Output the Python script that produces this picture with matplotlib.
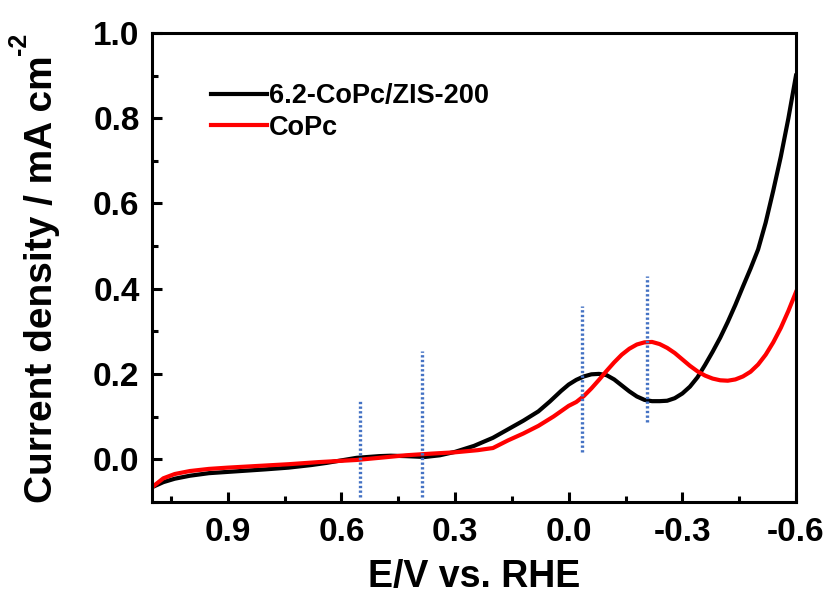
import matplotlib
matplotlib.use("Agg")
import matplotlib.pyplot as plt
from matplotlib.ticker import MultipleLocator

plt.rcParams['font.family'] = ['Liberation Sans', 'DejaVu Sans']
plt.rcParams['font.weight'] = 'bold'

# ---- data ----
e_black = [1.10, 1.07, 1.04, 1.00, 0.95, 0.90, 0.85, 0.80, 0.74, 0.68, 0.64, 0.60,
           0.56, 0.50, 0.47, 0.43, 0.38, 0.34, 0.30, 0.25, 0.20, 0.16, 0.12, 0.08,
           0.05, 0.02, 0.00, -0.02, -0.04, -0.06, -0.08, -0.10, -0.12, -0.14, -0.16,
           -0.18, -0.20, -0.22, -0.24, -0.26, -0.28, -0.30, -0.32, -0.34, -0.36,
           -0.38, -0.40, -0.42, -0.44, -0.46, -0.48, -0.50, -0.52, -0.54, -0.56,
           -0.58, -0.60]
j_black = [-0.066, -0.054, -0.046, -0.039, -0.033, -0.030, -0.027, -0.024, -0.020,
           -0.014, -0.009, -0.003, 0.003, 0.007, 0.008, 0.007, 0.005, 0.009, 0.017,
           0.031, 0.050, 0.070, 0.090, 0.112, 0.135, 0.160, 0.175, 0.186, 0.194,
           0.199, 0.200, 0.197, 0.187, 0.173, 0.159, 0.147, 0.139, 0.136, 0.136,
           0.137, 0.143, 0.154, 0.170, 0.192, 0.221, 0.252, 0.285, 0.322, 0.362,
           0.405, 0.447, 0.492, 0.555, 0.630, 0.710, 0.800, 0.900]

e_red = [1.10, 1.07, 1.04, 1.00, 0.95, 0.90, 0.82, 0.74, 0.66, 0.60, 0.56, 0.50,
         0.43, 0.36, 0.30, 0.24, 0.20, 0.16, 0.12, 0.08, 0.04, 0.00, -0.02, -0.04,
         -0.06, -0.08, -0.10, -0.12, -0.14, -0.16, -0.18, -0.20, -0.22, -0.24, -0.26,
         -0.28, -0.30, -0.32, -0.34, -0.36, -0.38, -0.40, -0.42, -0.44, -0.46, -0.48,
         -0.50, -0.52, -0.54, -0.56, -0.58, -0.60]
j_red = [-0.066, -0.045, -0.035, -0.028, -0.023, -0.020, -0.016, -0.012, -0.007,
         -0.004, -0.002, 0.003, 0.009, 0.013, 0.016, 0.021, 0.026, 0.044, 0.060,
         0.078, 0.100, 0.125, 0.134, 0.148, 0.166, 0.186, 0.207, 0.227, 0.245,
         0.259, 0.269, 0.274, 0.275, 0.270, 0.261, 0.249, 0.234, 0.219, 0.206,
         0.196, 0.189, 0.185, 0.184, 0.187, 0.194, 0.205, 0.222, 0.245, 0.274,
         0.308, 0.348, 0.392]

guide_e = [0.55, 0.386, -0.036, -0.207]
guide_lo = [-0.089, -0.089, 0.016, 0.086]
guide_hi = [0.141, 0.254, 0.359, 0.430]

labels = ['6.2-CoPc/ZIS-200', 'CoPc']
xticks = [0.9, 0.6, 0.3, 0.0, -0.3, -0.6]
yticks = [0.0, 0.2, 0.4, 0.6, 0.8, 1.0]
xlabel = 'E/V vs. RHE'
ylabel_main = 'Current density / mA cm'
ylabel_sup = '-2'

# ---- figure ----
W, H = 832, 599
fig = plt.figure(figsize=(W / 100, H / 100), dpi=100)
ax = fig.add_axes([0.1827, 0.1624, 0.7740, 0.7825])

ax.plot(e_black, j_black, color='black', lw=3.0, label=labels[0])
ax.plot(e_red, j_red, color='#ff0000', lw=3.0, label=labels[1])

for e, lo, hi in zip(guide_e, guide_lo, guide_hi):
    ax.plot([e, e], [lo, hi], color='#4472C4', lw=2.4, linestyle=(0, (0.7, 0.7)),
            dash_capstyle='butt')

ax.set_xlim(1.10, -0.60)
ax.set_ylim(-0.10, 1.00)
ax.set_xticks(xticks)
ax.set_xticklabels([f'{v:.1f}' for v in xticks])
ax.set_yticks(yticks)
ax.set_yticklabels([f'{v:.1f}' for v in yticks])
ax.xaxis.set_minor_locator(MultipleLocator(0.15))
ax.yaxis.set_minor_locator(MultipleLocator(0.1))

for s in ax.spines.values():
    s.set_linewidth(2.2)
ax.tick_params(which='major', direction='in', length=7.5, width=2.2, labelsize=24,
               top=False, right=False)
ax.tick_params(axis='x', which='major', pad=11)
ax.tick_params(axis='y', which='major', pad=9)
ax.tick_params(which='minor', direction='in', length=4.5, width=2.2,
               top=False, right=False)
for lab in ax.get_xticklabels() + ax.get_yticklabels():
    lab.set_fontweight('bold')

ax.set_xlabel(xlabel, fontsize=27, fontweight='bold', labelpad=8)
ax.set_ylabel(ylabel_main, fontsize=28, fontweight='bold')
ax.yaxis.set_label_coords(-0.1429, 0.474)

leg = ax.legend(loc='upper left', bbox_to_anchor=(0.091, 0.893), frameon=False,
                fontsize=19.5, handlelength=2.1, handletextpad=0.05, labelspacing=0.2,
                borderpad=0, borderaxespad=0)
for t in leg.get_texts():
    t.set_fontweight('bold')

fig.canvas.draw()
bb = ax.yaxis.label.get_window_extent()
fig.text(19 / W, (bb.y1 + 1) / H, ylabel_sup, rotation=90,
         ha='center', va='bottom', fontsize=18, fontweight='bold')

fig.savefig('out.png', dpi=100)
